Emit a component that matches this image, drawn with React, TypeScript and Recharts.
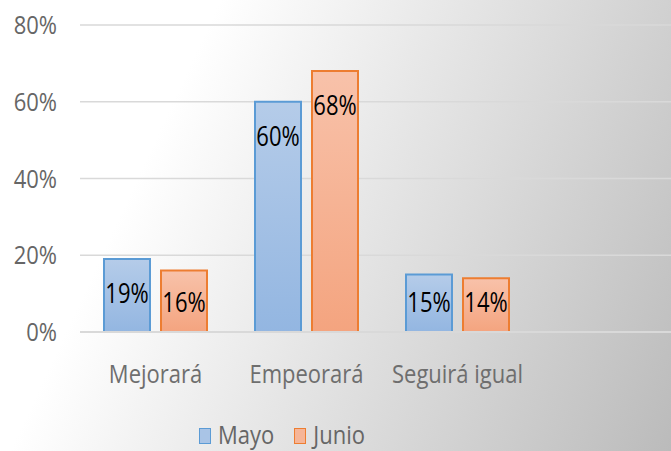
import React from "react";
import {
  BarChart,
  Bar,
  XAxis,
  YAxis,
  CartesianGrid,
  Legend,
  LabelList,
} from "recharts";

const categories = ["Mejorará", "Empeorará", "Seguirá igual"];
const mayo = [19, 60, 15];
const junio = [16, 68, 14];
const yTicks = [0, 20, 40, 60, 80];

const FONT = "'Open Sans', 'Noto Sans', sans-serif";
const PLOT_BOTTOM = 332;

const data = categories.map((name, i) => ({
  name,
  Mayo: mayo[i],
  Junio: junio[i],
}));

// the source image is a little stretched vertically, so text gets a scaleY too
function BarLabel(props: any) {
  const { x, y, width, value } = props;
  // Excel "inside end": near the top, short bars keep the label off the axis
  const cy = Math.min(y + 33, PLOT_BOTTOM - 31);
  return (
    <text
      transform={`translate(${x + width / 2},${cy}) scale(1,1.25)`}
      textAnchor="middle"
      dominantBaseline="central"
      fontSize={22}
      fontFamily={FONT}
      fill="#000"
    >
      {value}%
    </text>
  );
}

function YTick(props: any) {
  const { x, y, payload } = props;
  return (
    <text
      transform={`translate(${x},${y + 9}) scale(1,1.15)`}
      textAnchor="end"
      fontSize={22}
      fontFamily={FONT}
      fill="#666"
    >
      {payload.value}%
    </text>
  );
}

function XTick(props: any) {
  const { x, y, payload } = props;
  return (
    <text
      transform={`translate(${x},${y + 51}) scale(1,1.15)`}
      textAnchor="middle"
      fontSize={22}
      fontFamily={FONT}
      fill="#6e6e6e"
    >
      {payload.value}
    </text>
  );
}

function LegendBox() {
  const items = [
    { name: "Mayo", fill: "#a9c4e6", stroke: "#5b9bd5" },
    { name: "Junio", fill: "#f6b597", stroke: "#ed7d31" },
  ];
  return (
    <div style={{ display: "flex", alignItems: "center", fontFamily: FONT, fontSize: 22, lineHeight: "30px", color: "#666" }}>
      {items.map((it, i) => (
        <div key={it.name} style={{ display: "flex", alignItems: "center", marginLeft: i ? 20 : 0 }}>
          <span
            style={{
              display: "inline-block",
              width: 10,
              height: 14,
              background: it.fill,
              border: `1.5px solid ${it.stroke}`,
              marginRight: 7,
              marginTop: 2,
            }}
          />
          <span style={{ display: "inline-block", transform: "scaleY(1.15)", transformOrigin: "50% 80%" }}>{it.name}</span>
        </div>
      ))}
    </div>
  );
}

export default function App() {
  return (
    <div
      style={{
        position: "absolute",
        left: 0,
        top: 0,
        width: 671,
        height: 451,
        overflow: "hidden",
        background: "linear-gradient(115deg, #ffffff 25%, #bbbbbb 100%)",
      }}
    >
      <BarChart
        width={671}
        height={451}
        data={data}
        margin={{ top: 25, right: 0, left: 0, bottom: 0 }}
        barSize={46}
        barGap={11}
      >
        <defs>
          <linearGradient id="gBlue" x1="0" y1="0" x2="0" y2="1">
            <stop offset="0%" stopColor="#b5cce9" />
            <stop offset="100%" stopColor="#93b6e1" />
          </linearGradient>
          <linearGradient id="gOrange" x1="0" y1="0" x2="0" y2="1">
            <stop offset="0%" stopColor="#f8c2aa" />
            <stop offset="100%" stopColor="#f4a47f" />
          </linearGradient>
        </defs>
        <CartesianGrid vertical={false} stroke="#d9d9d9" strokeWidth={1.5} />
        <XAxis
          dataKey="name"
          height={119}
          padding={{ left: 0, right: 138 }}
          axisLine={{ stroke: "#d9d9d9", strokeWidth: 2 }}
          tickLine={false}
          tickSize={0}
          tickMargin={0}
          interval={0}
          tick={<XTick />}
        />
        <YAxis
          width={80}
          domain={[0, 80]}
          ticks={yTicks}
          axisLine={false}
          tickLine={false}
          tickSize={0}
          tickMargin={23}
          tick={<YTick />}
        />
        <Legend
          layout="horizontal"
          verticalAlign="middle"
          align="center"
          wrapperStyle={{ top: 420, left: 199, width: "auto" }}
          content={() => <LegendBox />}
        />
        <Bar dataKey="Mayo" fill="url(#gBlue)" stroke="#5b9bd5" strokeWidth={2} isAnimationActive={false}>
          <LabelList dataKey="Mayo" content={<BarLabel />} />
        </Bar>
        <Bar dataKey="Junio" fill="url(#gOrange)" stroke="#ed7d31" strokeWidth={2} isAnimationActive={false}>
          <LabelList dataKey="Junio" content={<BarLabel />} />
        </Bar>
      </BarChart>
    </div>
  );
}
